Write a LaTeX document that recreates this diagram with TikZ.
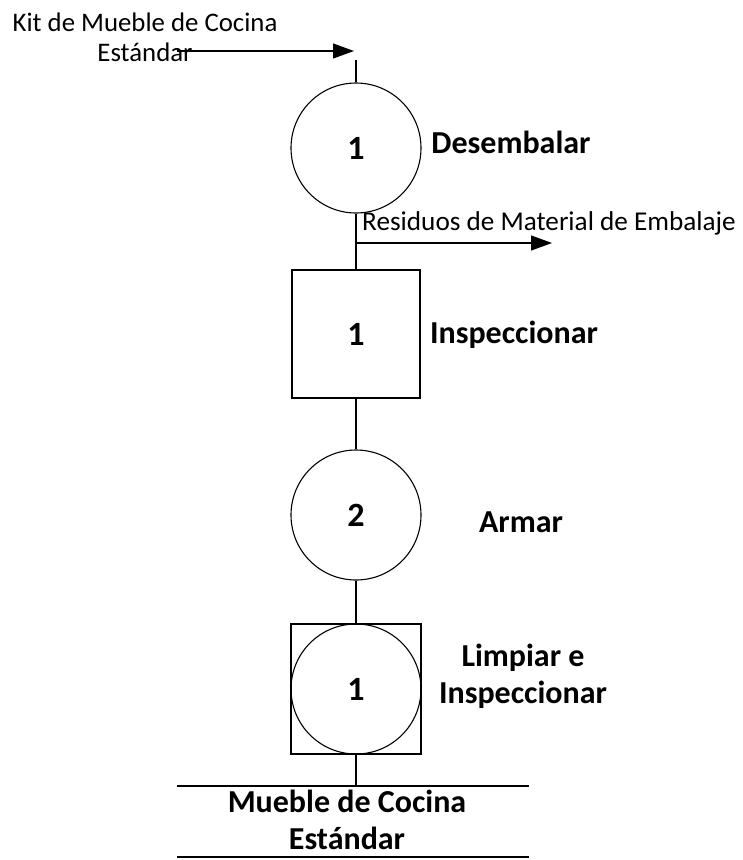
\documentclass[tikz,border=0pt]{standalone}
\usepackage{fontspec}
\setmainfont{Carlito}
\usetikzlibrary{arrows.meta}
\begin{document}
\begin{tikzpicture}[x=1pt, y=-1pt, line width=1.1pt,
  opcirc/.style={draw, circle, minimum size=130pt, inner sep=0pt, font=\fontsize{34}{38}\selectfont\bfseries},
  opbox/.style={draw, rectangle, minimum size=128pt, inner sep=0pt, font=\fontsize{34}{38}\selectfont\bfseries},
  oplabel/.style={font=\fontsize{32}{37}\selectfont\bfseries, align=center},
  flowtext/.style={font=\fontsize{26.8}{30}\selectfont, align=center},
  flowarrow/.style={-{Triangle[length=21pt,width=15pt]}}]
\useasboundingbox (0,0) rectangle (743,860);

% entrada
\node[flowtext] (kit) at (145,37) {Kit de Mueble de Cocina\\Estándar};
\coordinate (kitstart) at (177,51);
\coordinate (kitend) at (354,51);
\draw[flowarrow] (kitstart) -- (kitend);
\coordinate (topin) at (356,60);

% operaciones
\node[opcirc] (op1) at (356,148) {1};
\node[oplabel] (op1lbl) at (511,142) {Desembalar};
\draw (topin) -- (op1.north);

\node[opbox] (insp1) at (356,334) {1};
\node[oplabel] (insp1lbl) at (514,335) {Inspeccionar};
\draw (op1.south) -- (insp1.north);

% residuos
\coordinate (resstart) at (356,243);
\coordinate (resend) at (552,243);
\draw[flowarrow] (resstart) -- (resend);
\node[flowtext, font=\fontsize{27.2}{30}\selectfont] (res) at (549,223) {Residuos de Material de Embalaje};

\node[opcirc] (op2) at (356,515) {2};
\node[oplabel] (op2lbl) at (521,522) {Armar};
\draw (insp1.south) -- (op2.north);

\node[opbox, minimum size=130pt] (comb) at (356,689) {};
\node[opcirc] (comb1) at (356,689) {1};
\node[oplabel] (comblbl) at (523,676) {Limpiar e\\Inspeccionar};
\draw (op2.south) -- (comb.north);

% salida
\coordinate (outtop) at (356,786);
\draw (comb.south) -- (outtop);
\draw (177,786) -- (529,786);
\node[oplabel] (out) at (347,820) {Mueble de Cocina\\Estándar};
\draw (177,857) -- (529,857);
\end{tikzpicture}
\end{document}
